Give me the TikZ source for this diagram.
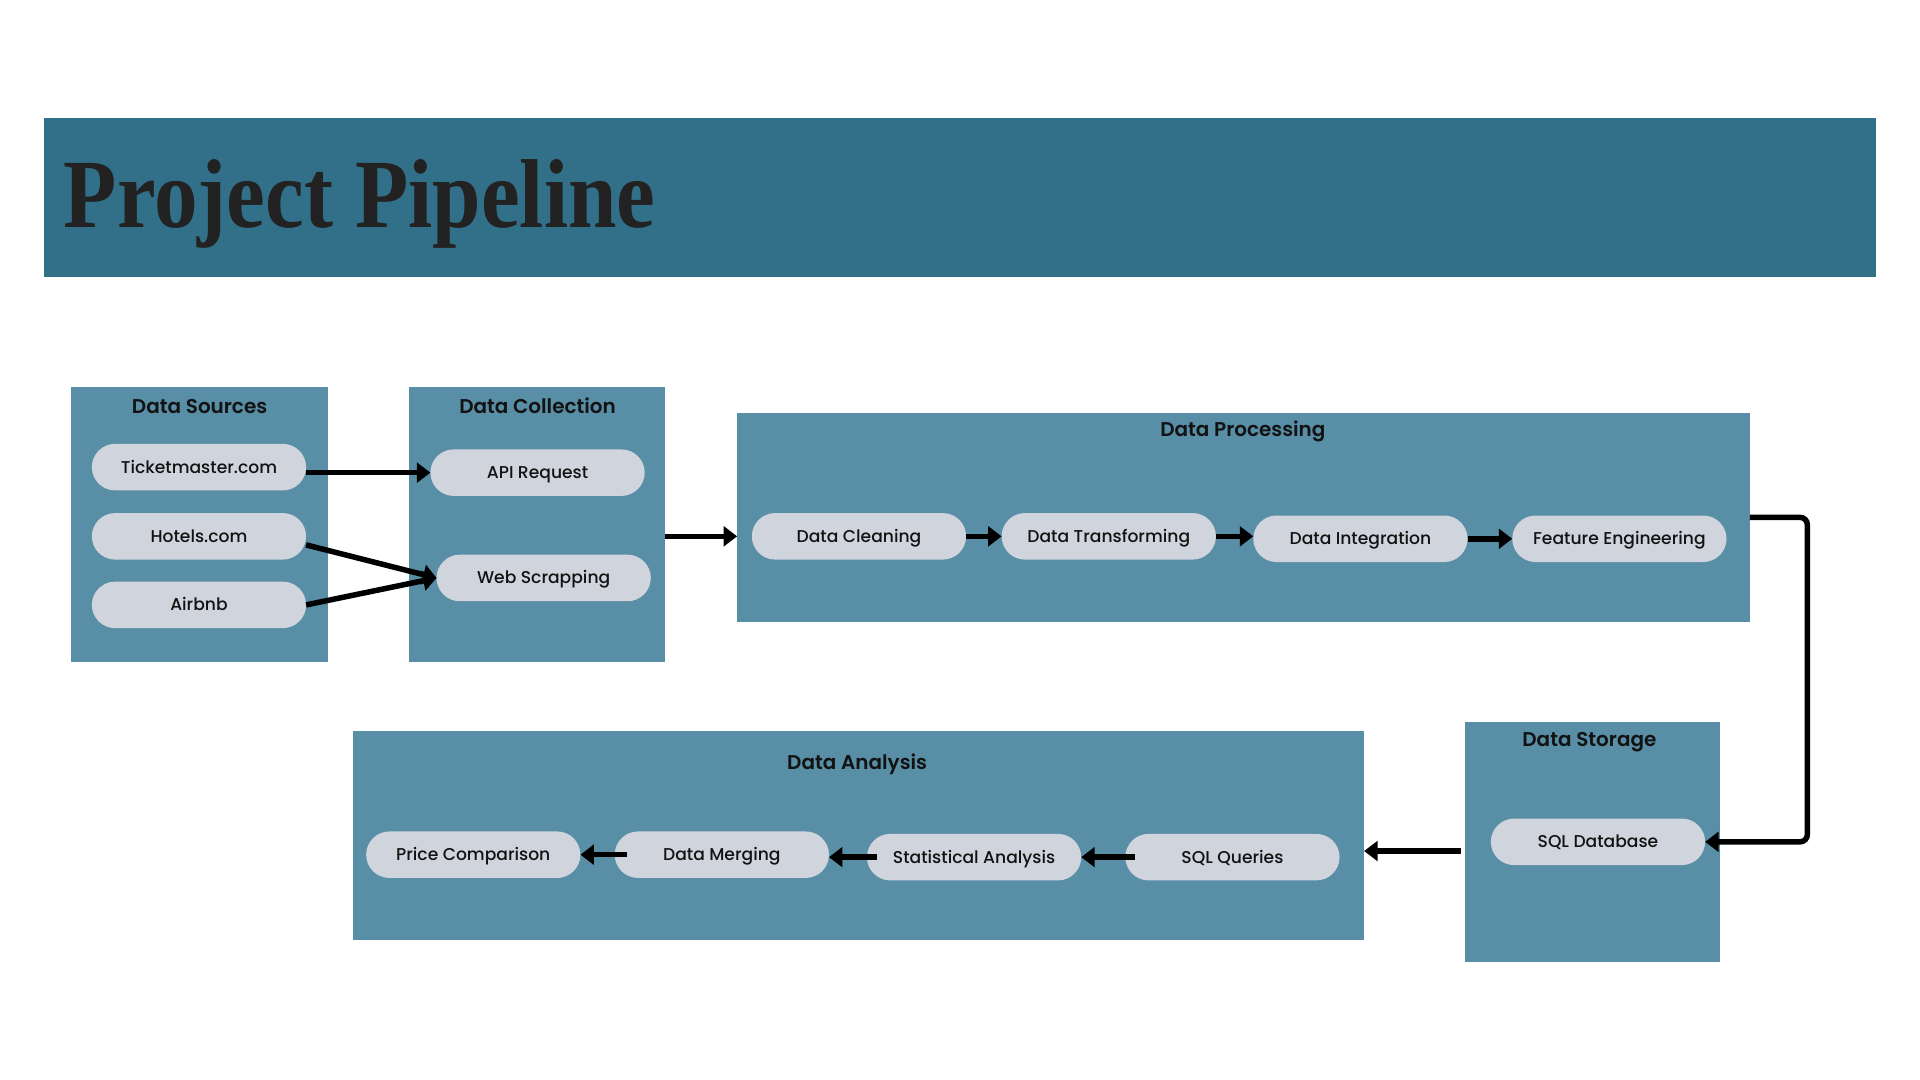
\documentclass[tikz,border=0pt]{standalone}
\usepackage{fontspec}
\setmainfont{Poppins}
\newfontfamily\pillfont{Poppins Medium}
\newfontfamily\headfont{Poppins SemiBold}
\newfontfamily\titlefont{Liberation Serif}
\usetikzlibrary{arrows.meta}
\definecolor{bannerc}{RGB}{50,112,137}
\definecolor{panelc}{RGB}{88,142,166}
\definecolor{pillc}{RGB}{208,212,220}
\definecolor{inkc}{RGB}{18,18,18}
\definecolor{titleink}{RGB}{34,34,34}
\begin{document}
\begin{tikzpicture}[x=1pt,y=-1pt,
  panel/.style={fill=panelc,draw=none,inner sep=0pt,outer sep=0pt,anchor=north west},
  pill/.style={fill=pillc,draw=none,rounded corners=19pt,minimum width=175pt,minimum height=38pt,inner sep=0pt,outer sep=0pt,text height=11pt,text depth=1.4pt,text=inkc,font=\pillfont\fontsize{14}{16}\selectfont},
  ptitle/.style={text=inkc,text height=13pt,text depth=1.5pt,inner sep=0pt,font=\headfont\fontsize{16.3}{20}\selectfont},
  flow/.style={draw=black,line width=4.5pt,-{Triangle[length=11pt,width=16pt]}}]
\fill[white] (0,0) rectangle (1568,882);
\path[use as bounding box] (0,0) rectangle (1568,882);
% banner
\node[panel,fill=bannerc,minimum width=1496pt,minimum height=130pt] (banner) at (36,96) {};
\node[anchor=base west,inner sep=0pt,text=titleink,font=\titlefont\fontsize{80}{90}\selectfont\bfseries] (title) at (52,186) {\scalebox{0.89}[1]{Project Pipeline}};
% panels
\node[panel,minimum width=210pt,minimum height=225pt] (ds) at (58,316) {};
\node[panel,minimum width=209pt,minimum height=225pt] (dc) at (334,316) {};
\node[panel,minimum width=827pt,minimum height=171pt] (dp) at (602,337) {};
\node[panel,minimum width=209pt,minimum height=196pt] (dstor) at (1196,590) {};
\node[panel,minimum width=826pt,minimum height=171pt] (da) at (288,597) {};
% panel titles
\node[ptitle] (dst) at (163,332) {Data Sources};
\node[ptitle] (dct) at (439,332) {Data Collection};
\node[ptitle] (dpt) at (1015,351) {Data Processing};
\node[ptitle] (dstt) at (1298,604) {Data Storage};
\node[ptitle] (dat) at (700,623) {Data Analysis};
% pills
\node[pill] (ticket) at (162.5,381.5) {Ticketmaster.com};
\node[pill] (hotels) at (162.5,438) {Hotels.com};
\node[pill] (airbnb) at (162.5,494) {Airbnb};
\node[pill] (api) at (439,386) {API Request};
\node[pill] (web) at (444,472) {Web Scrapping};
\node[pill] (clean) at (701.5,438) {Data Cleaning};
\node[pill] (transf) at (905.5,438) {Data Transforming};
\node[pill] (integ) at (1111,440) {Data Integration};
\node[pill] (feat) at (1322.5,440) {Feature Engineering};
\node[pill] (sqldb) at (1305,687.5) {SQL Database};
\node[pill] (sqlq) at (1006.5,700) {SQL Queries};
\node[pill] (stat) at (795.5,700) {Statistical Analysis};
\node[pill] (merge) at (589.5,698) {Data Merging};
\node[pill] (price) at (386.5,698) {Price Comparison};
\coordinate (sa) at (1193,695);
% connectors
\draw[flow] (api.west -| ticket.east) -- (api.west);
\draw[flow] ([yshift=-7pt]hotels.east) -- (web.west);
\draw[flow] (airbnb.east) -- (web.west);
\draw[flow] (dc.east |- clean) -- (dp.west |- clean);
\draw[flow] (clean.east) -- (transf.west);
\draw[flow] (transf.east) -- (transf.east -| integ.west);
\draw[flow] (integ.east) -- (feat.west);
\draw[flow,rounded corners=6pt] (dp.east) -- ++(47,0) |- (sqldb.east);
\draw[flow] (sa) -- (da.east |- sa);
\draw[flow] ([xshift=8pt]sqlq.west) -- (stat.east);
\draw[flow] ([xshift=8pt]stat.west) -- (stat.west -| merge.east);
\draw[flow] ([xshift=10pt]merge.west) -- (price.east);
\end{tikzpicture}
\end{document}
